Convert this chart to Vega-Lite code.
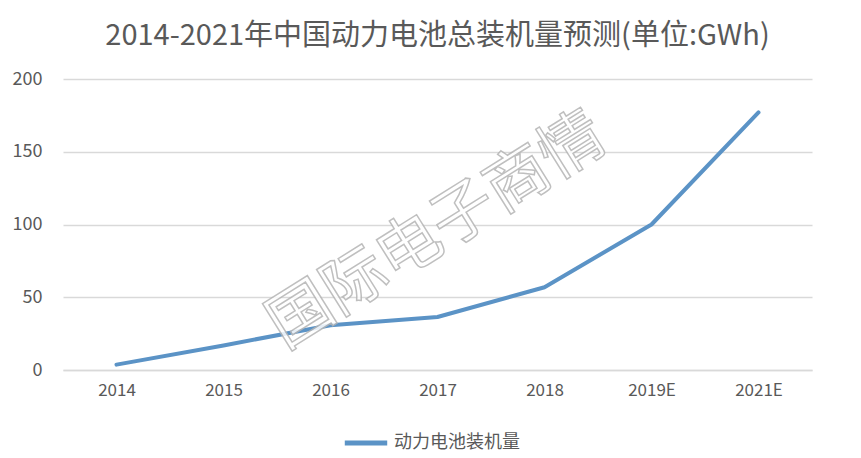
{
  "$schema": "https://vega.github.io/schema/vega-lite/v6.json",
  "width": 749,
  "height": 291,
  "autosize": {"type": "none"},
  "padding": {"left": 63, "top": 79, "right": 49, "bottom": 88},
  "background": "white",
  "title": {
    "text": "2014-2021年中国动力电池总装机量预测(单位:GWh)",
    "font": "Noto Sans CJK SC",
    "fontSize": 29,
    "fontWeight": "normal",
    "color": "#595959",
    "anchor": "middle",
    "offset": 19
  },
  "config": {
    "view": {"stroke": null},
    "font": "Noto Sans CJK SC"
  },
  "datasets": {
    "main": [
      {"year": "2014", "value": 3.7, "series": "动力电池装机量"},
      {"year": "2015", "value": 16.9, "series": "动力电池装机量"},
      {"year": "2016", "value": 30.8, "series": "动力电池装机量"},
      {"year": "2017", "value": 36.4, "series": "动力电池装机量"},
      {"year": "2018", "value": 56.9, "series": "动力电池装机量"},
      {"year": "2019E", "value": 100, "series": "动力电池装机量"},
      {"year": "2021E", "value": 177, "series": "动力电池装机量"}
    ],
    "mark": [{"label": "国际电子商情", "year": "2017", "value": 95}]
  },
  "layer": [
    {
      "data": {"name": "main"},
      "mark": {"type": "line", "interpolate": "linear", "strokeWidth": 4, "strokeCap": "round", "strokeJoin": "round"},
      "encoding": {
        "x": {
          "field": "year", "type": "ordinal",
          "scale": {"type": "point", "padding": 0.5},
          "axis": {
            "title": null, "labelAngle": 0, "ticks": false,
            "domainColor": "#d9d9d9", "domainWidth": 1.5,
            "labelFontSize": 17, "labelColor": "#595959", "labelPadding": 12,
            "labelFont": "Noto Sans CJK SC"
          }
        },
        "y": {
          "field": "value", "type": "quantitative",
          "scale": {"domain": [0, 200]},
          "axis": {
            "title": null, "values": [0, 50, 100, 150, 200], "domain": false, "ticks": false,
            "gridColor": "#d9d9d9", "gridWidth": 1.5,
            "labelFontSize": 18, "labelColor": "#595959", "labelPadding": 21,
            "labelFont": "Noto Sans CJK SC"
          }
        },
        "color": {
          "field": "series", "type": "nominal",
          "scale": {"range": ["#5b93c6"]},
          "legend": {
            "title": null, "orient": "none", "legendX": 279, "legendY": 340,
            "symbolType": "stroke", "symbolStrokeWidth": 5, "symbolSize": 1800,
            "labelFontSize": 18, "labelColor": "#595959", "labelOffset": 4
          }
        }
      }
    },
    {
      "data": {"name": "mark"},
      "mark": {
        "type": "text", "angle": -32, "fontSize": 64, "fill": "white",
        "stroke": "#b5b5b5", "strokeWidth": 1.5, "opacity": 0.85
      },
      "encoding": {
        "x": {"field": "year", "type": "ordinal", "scale": {"type": "point", "padding": 0.5}},
        "y": {"field": "value", "type": "quantitative"},
        "text": {"field": "label"}
      }
    }
  ]
}
